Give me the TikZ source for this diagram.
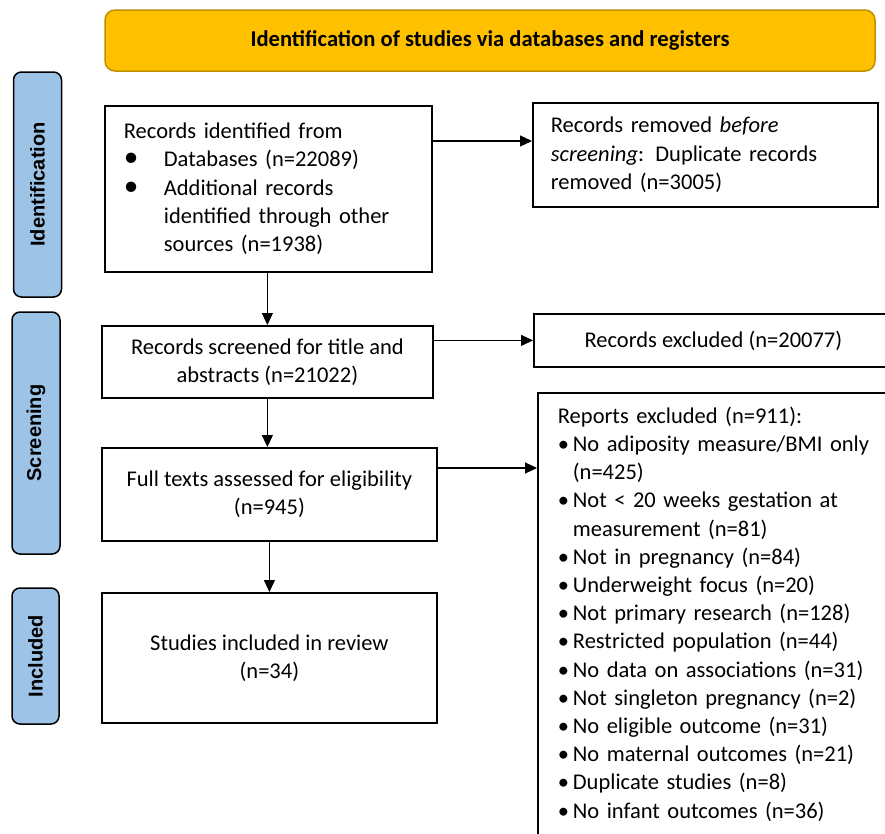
\documentclass[tikz,border=0pt]{standalone}
\usepackage{fontspec}
\setmainfont{Carlito}
\newfontfamily\phasefont{Liberation Sans}
\usetikzlibrary{arrows.meta}
\definecolor{bannergold}{HTML}{FFC000}
\definecolor{bannerrim}{HTML}{BF9000}
\definecolor{phaseblue}{HTML}{9DC3E6}
\newcommand{\bigbul}{\makebox[40pt][l]{\scalebox{1.3}{\textbullet}}}
\newcommand{\bigind}{\hspace*{40pt}}
\newcommand{\smallbul}{\makebox[15pt][l]{\textbullet}}
\newcommand{\smallind}{\hspace*{15pt}}

\begin{document}
\begin{tikzpicture}[x=1pt,y=-1pt,
		font=\fontsize{22.5}{28.2}\selectfont,
		flowbox/.style={draw,line width=1.8pt,inner sep=0pt},
		phase/.style={draw,line width=1.5pt,fill=phaseblue,rounded corners=8pt,inner sep=0pt,
			rotate=90,font=\phasefont\bfseries\fontsize{20}{24}\selectfont},
		flowarrow/.style={line width=1.1pt,-{Triangle[length=12pt,width=11pt]}}]
			\clip (0,0) rectangle (885,833);
			\fill[white] (0,0) rectangle (885,833);

			\node[draw=bannerrim,line width=1.5pt,fill=bannergold,rounded corners=10pt,
				minimum width=770pt,minimum height=61pt,font=\bfseries\fontsize{22.6}{26}\selectfont]
				(banner) at (490,40.5) {Identification of studies via databases and registers};

			\node[phase,minimum width=225pt,minimum height=48pt] (idphase) at (37.5,184.5) {Identification};
			\node[phase,minimum width=242pt,minimum height=48pt] (scrphase) at (36,433) {Screening};
			\node[phase,minimum width=136pt,minimum height=47pt] (incphase) at (35.5,656) {Included};

			\node[flowbox,anchor=north west,minimum width=327pt,minimum height=166pt,text width=289pt,align=left]
				(identified) at (104,105) {Records identified from\\
				\bigbul Databases (n=22089)\\
				\bigbul Additional records\\
				\bigind identified through other\\
				\bigind sources (n=1938)};
			\node[flowbox,anchor=north west,minimum width=345pt,minimum height=104pt,text width=309pt,align=left]
				(removed) at (532,102) {Records removed \emph{before}\\
				\emph{screening}: Duplicate records\\
				removed (n=3005)};
			\node[flowbox,anchor=north west,minimum width=331pt,minimum height=72pt,align=center]
				(screened) at (101,325) {Records screened for title and\\abstracts (n=21022)};
			\node[flowbox,anchor=north west,minimum width=359pt,minimum height=53pt,align=center]
				(excluded) at (533,313) {Records excluded (n=20077)};
			\node[flowbox,anchor=north west,minimum width=335pt,minimum height=93pt,align=center]
				(fulltext) at (101,447) {Full texts assessed for eligibility\\(n=945)};
			\node[flowbox,anchor=north west,inner xsep=20pt,inner ysep=14pt,text width=340pt,align=left]
				(reports) at (537,392) {Reports excluded (n=911):\\
				\smallbul No adiposity measure/BMI only\\
				\smallind (n=425)\\
				\smallbul Not < 20 weeks gestation at\\
				\smallind measurement (n=81)\\
				\smallbul Not in pregnancy (n=84)\\
				\smallbul Underweight focus (n=20)\\
				\smallbul Not primary research (n=128)\\
				\smallbul Restricted population (n=44)\\
				\smallbul No data on associations (n=31)\\
				\smallbul Not singleton pregnancy (n=2)\\
				\smallbul No eligible outcome (n=31)\\
				\smallbul No maternal outcomes (n=21)\\
				\smallbul Duplicate studies (n=8)\\
				\smallbul No infant outcomes (n=36)\\[20pt]};
			\node[flowbox,anchor=north west,minimum width=335pt,minimum height=130pt,align=center]
				(included) at (101,592) {Studies included in review\\(n=34)};

			\draw[flowarrow] ([yshift=-36pt]identified.north east) coordinate (idout) -- (idout -| removed.west);
			\draw[flowarrow] (screened.east |- excluded.west) -- (excluded.west);
			\draw[flowarrow] ([yshift=-21pt]fulltext.north east) coordinate (ftout) -- (ftout -| reports.west);
			\draw[flowarrow] ([xshift=-1pt]identified.south) coordinate (idbot) -- (idbot |- screened.north);
			\draw[flowarrow] (screened.south) -- (screened.south |- fulltext.north);
			\draw[flowarrow] (fulltext.south) -- (included.north);
		\end{tikzpicture}
\end{document}
